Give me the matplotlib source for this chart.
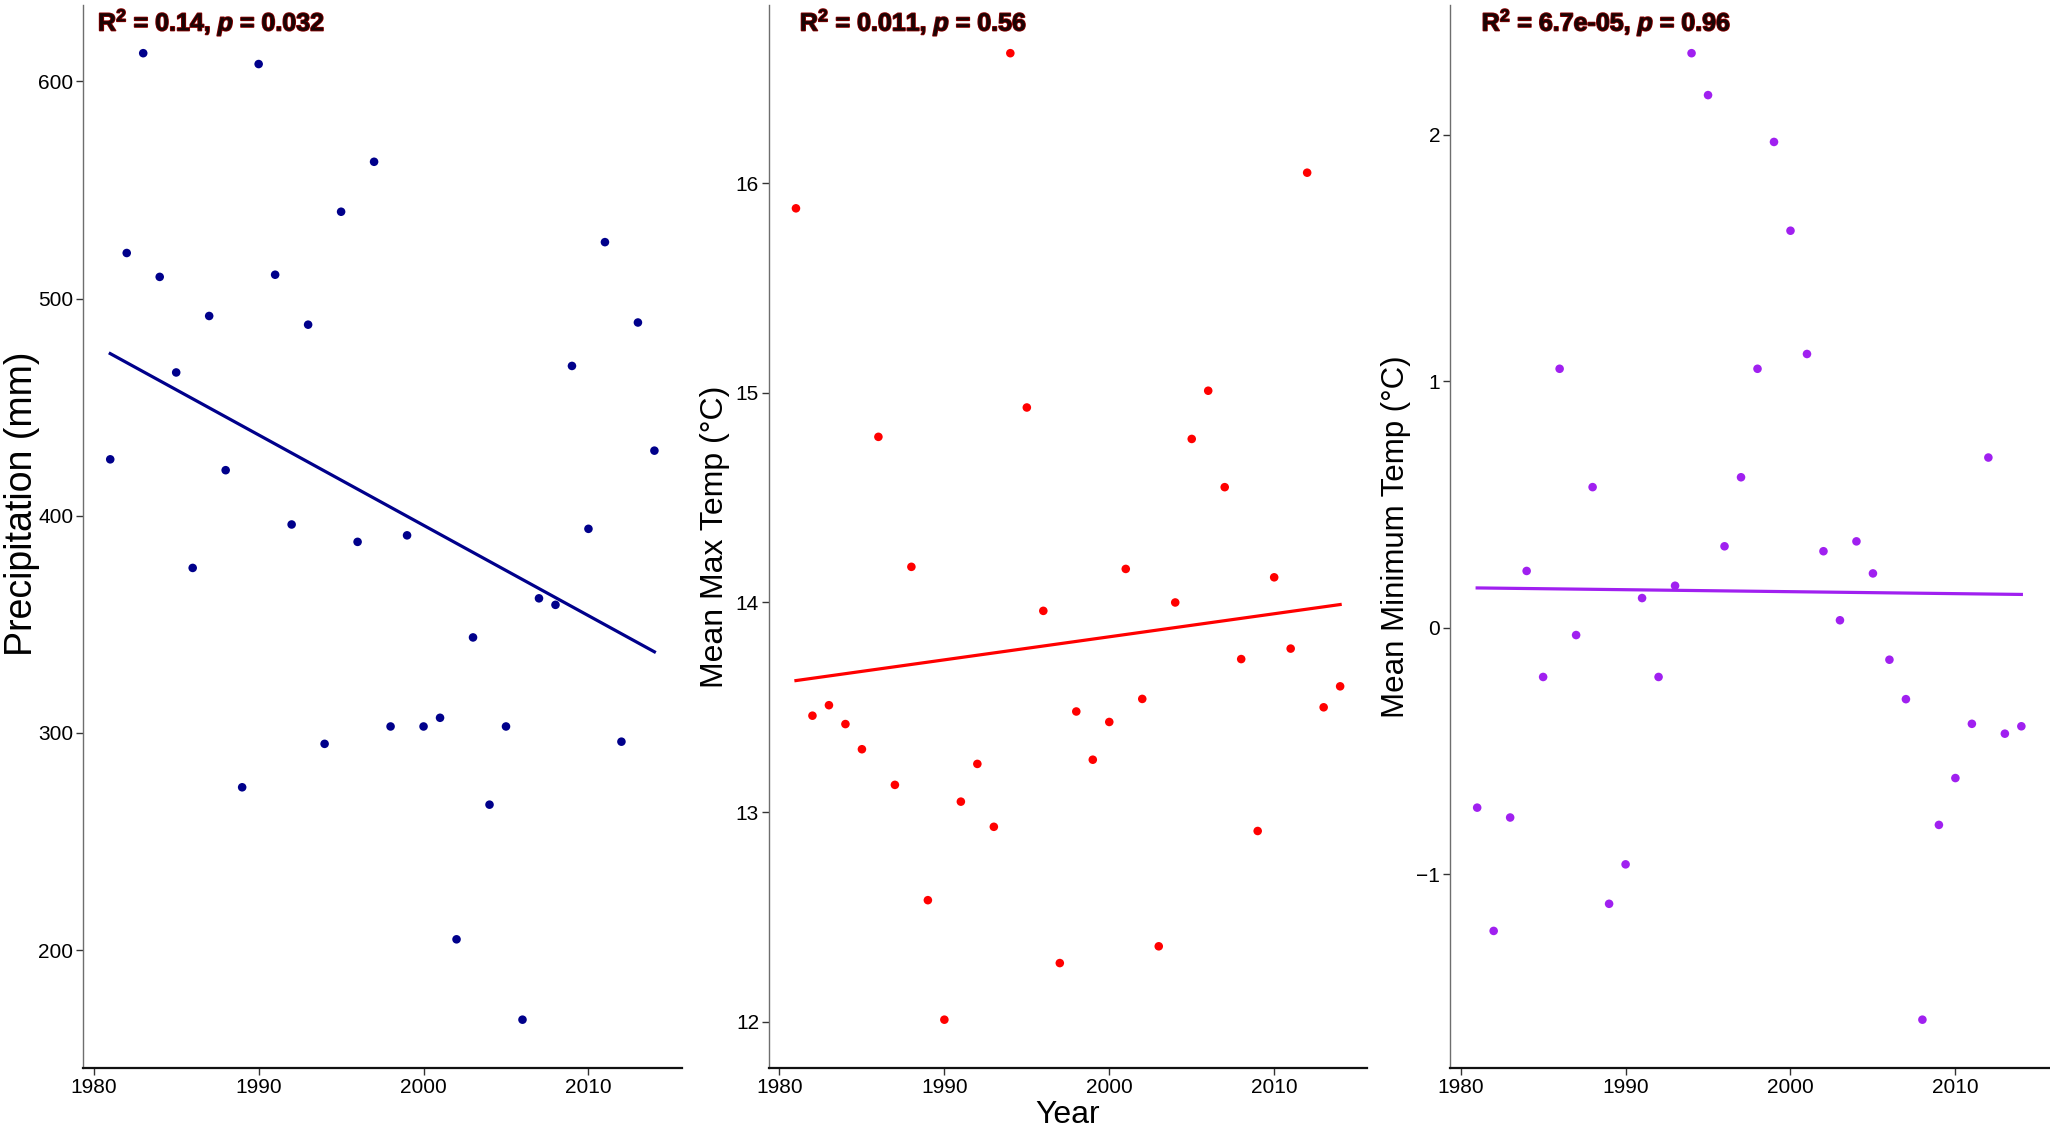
import numpy as np
import matplotlib
matplotlib.use("Agg")
import matplotlib.pyplot as plt
import matplotlib.patheffects as pe

plt.rcParams["font.family"] = ["Liberation Sans", "DejaVu Sans"]
plt.rcParams["mathtext.fontset"] = "custom"
plt.rcParams["mathtext.rm"] = "Liberation Sans:bold"
plt.rcParams["mathtext.bf"] = "Liberation Sans:bold"
plt.rcParams["mathtext.it"] = "Liberation Sans:bold:italic"

years = list(range(1981, 2015))

precip = [426, 521, 613, 510, 466, 376, 492, 421, 275, 608,
          511, 396, 488, 295, 540, 388, 563, 303, 391, 303,
          307, 205, 344, 267, 303, 168, 362, 359, 469, 394,
          526, 296, 489, 430]

tmax = [15.88, 13.46, 13.51, 13.42, 13.30, 14.79, 13.13, 14.17, 12.58, 12.01,
        13.05, 13.23, 12.93, 16.62, 14.93, 13.96, 12.28, 13.48, 13.25, 13.43,
        14.16, 13.54, 12.36, 14.00, 14.78, 15.01, 14.55, 13.73, 12.91, 14.12,
        13.78, 16.05, 13.50, 13.60]

tmin = [-0.73, -1.23, -0.77, 0.23, -0.20, 1.05, -0.03, 0.57, -1.12, -0.96,
        0.12, -0.20, 0.17, 2.33, 2.16, 0.33, 0.61, 1.05, 1.97, 1.61,
        1.11, 0.31, 0.03, 0.35, 0.22, -0.13, -0.29, -1.59, -0.80, -0.61,
        -0.39, 0.69, -0.43, -0.40]

ylabels = ["Precipitation (mm)", "Mean Max Temp (°C)", "Mean Minimum Temp (°C)"]
colors = ["#00008B", "#FF0000", "#A020F0"]
stats = [r"$\mathbf{R^2}$ = 0.14, $\mathit{p}$ = 0.032",
         r"$\mathbf{R^2}$ = 0.011, $\mathit{p}$ = 0.56",
         r"$\mathbf{R^2}$ = 6.7e-05, $\mathit{p}$ = 0.96"]
yticks = [[200, 300, 400, 500, 600], [12, 13, 14, 15, 16], [-1, 0, 1, 2]]
xticks = [1980, 1990, 2000, 2010]

fig = plt.figure(figsize=(20.5, 11.31), dpi=100)
lefts = [0.0405, 0.375, 0.7073]
text_x = [0.025, 0.052, 0.053]
label_sizes = [27, 23, 22.5]
x = np.array(years, dtype=float)

for i, vals in enumerate([precip, tmax, tmin]):
    ax = fig.add_axes([lefts[i], 0.0557, 0.292, 0.94])
    y = np.array(vals, dtype=float)
    ax.scatter(x, y, s=38, color=colors[i], edgecolors="none", zorder=3)
    k, b = np.polyfit(x, y, 1)
    ax.plot([x.min(), x.max()], [k * x.min() + b, k * x.max() + b],
            color=colors[i], lw=2.3, zorder=2)

    xpad = 0.05 * (x.max() - x.min())
    ypad = 0.05 * (y.max() - y.min())
    ax.set_xlim(x.min() - xpad, x.max() + xpad)
    ax.set_ylim(y.min() - ypad, y.max() + ypad)
    ax.set_xticks(xticks)
    ax.set_yticks(yticks[i])

    for s in ["top", "right"]:
        ax.spines[s].set_visible(False)
    ax.spines["left"].set_color("#6e6e6e")
    ax.spines["left"].set_linewidth(1.0)
    ax.spines["bottom"].set_color("#111111")
    ax.spines["bottom"].set_linewidth(1.6)
    ax.tick_params(axis="both", labelsize=15, length=5, width=1,
                   color="#333333", pad=2)

    ax.set_ylabel(ylabels[i], fontsize=label_sizes[i], labelpad=4)
    if i == 0:
        # first panel's label sits a little higher and closer to the edge
        ax.yaxis.set_label_coords(-0.0719, 0.531)
    if i == 1:
        ax.set_xlabel("Year", fontsize=23, labelpad=2)

    t = ax.text(text_x[i], 0.984, stats[i], transform=ax.transAxes,
                fontsize=18, fontweight="bold", color="#1a0505",
                ha="left", va="center")
    t.set_path_effects([pe.Stroke(linewidth=1.2, foreground="#8b0000"), pe.Normal()])

fig.savefig("out.png", dpi=100)
